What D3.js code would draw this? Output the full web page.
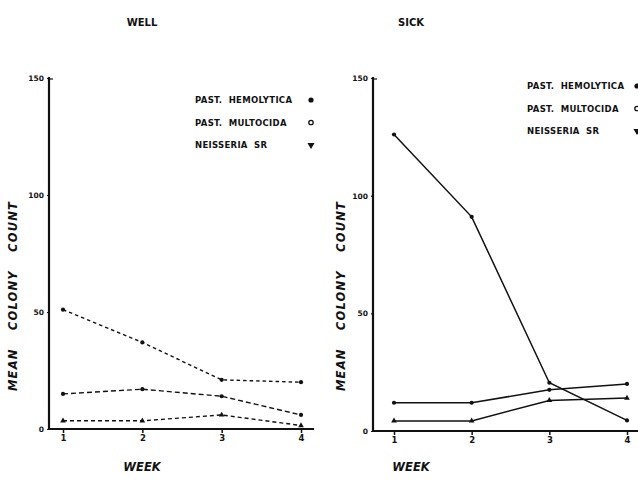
<!DOCTYPE html>
<html>
<head>
<meta charset="utf-8">
<script src="https://cdn.jsdelivr.net/npm/d3@7"></script>
<style>
  body { margin: 0; background: #fff; }
  svg text { font-family: 'DejaVu Sans', sans-serif; font-weight: bold; fill: #111; }
</style>
</head>
<body>
<svg id="chart" width="638" height="482"></svg>
<script>
const weeks = [1, 2, 3, 4];
const yTicks = [0, 50, 100, 150];
const seriesNames = ['PAST. HEMOLYTICA', 'PAST. MULTOCIDA', 'NEISSERIA SR'];
const markers = ['dot', 'ring', 'tri'];

const wellHemolytica = [51, 37, 21, 20];
const wellMultocida = [15, 17, 14, 6];
const wellNeisseria = [3.5, 3.5, 6, 1.5];

const sickHemolytica = [126, 91, 20.5, 4.5];
const sickMultocida = [12, 12, 17.5, 20];
const sickNeisseria = [4.3, 4.3, 13, 14];

const svg = d3.select('#chart');
const ink = '#111';

function drawPanel(opt) {
  const x = d3.scaleLinear().domain([1, 4]).range([opt.x1, opt.x4]);
  const y = d3.scaleLinear().domain([0, 150]).range([opt.y0, 78]);
  const g = svg.append('g');

  // title
  g.append('text')
    .attr('x', opt.titleX).attr('y', 26)
    .attr('text-anchor', 'middle')
    .style('font-size', '10px')
    .text(opt.title);

  // x axis
  const xAxis = g.append('g')
    .attr('transform', `translate(0, ${opt.y0})`)
    .call(d3.axisBottom(x).tickValues(weeks).tickFormat(d3.format('d'))
      .tickSize(4).tickSizeOuter(0).tickPadding(2));
  xAxis.select('.domain').remove();
  xAxis.selectAll('line').attr('stroke', ink).attr('stroke-width', 1.5);
  xAxis.selectAll('text').style('font-size', '8.5px').attr('fill', ink);
  g.append('line')
    .attr('x1', opt.axisX - 1).attr('x2', opt.xEnd)
    .attr('y1', opt.y0).attr('y2', opt.y0)
    .attr('stroke', ink).attr('stroke-width', 2.2);

  // y axis
  const yAxis = g.append('g')
    .attr('transform', `translate(${opt.axisX}, 0)`)
    .call(d3.axisLeft(y).tickValues(yTicks).tickSize(2).tickSizeOuter(0).tickPadding(3));
  yAxis.select('.domain').remove();
  yAxis.selectAll('line').attr('stroke', ink).attr('stroke-width', 1.2);
  yAxis.selectAll('text').style('font-size', '7.5px').attr('fill', ink);
  g.append('line')
    .attr('x1', opt.axisX).attr('x2', opt.axisX)
    .attr('y1', y(150) - 1).attr('y2', opt.y0 + 1)
    .attr('stroke', ink).attr('stroke-width', 2.2);
  g.append('line')
    .attr('x1', opt.axisX).attr('x2', opt.axisX + 4)
    .attr('y1', y(150) + 1).attr('y2', y(150) + 1)
    .attr('stroke', ink).attr('stroke-width', 1.2);

  // y label
  g.append('text')
    .attr('transform', `translate(${opt.labelX}, 296) rotate(-90)`)
    .attr('text-anchor', 'middle')
    .style('font-size', '11.5px')
    .style('font-style', 'italic')
    .style('letter-spacing', '1.2px')
    .style('word-spacing', '13px')
    .text('MEAN COLONY COUNT');

  // x label
  g.append('text')
    .attr('x', opt.titleX).attr('y', 471)
    .attr('text-anchor', 'middle')
    .style('font-size', '11.5px')
    .style('font-style', 'italic')
    .text('WEEK');

  // lines
  const line = d3.line()
    .x((d, i) => x(weeks[i]))
    .y(d => y(d));

  opt.series.forEach((vals, k) => {
    g.append('path')
      .attr('d', line(vals))
      .attr('fill', 'none')
      .attr('stroke', ink)
      .attr('stroke-width', opt.dashed ? 1.4 : 1.5)
      .attr('stroke-dasharray', opt.dashed ? opt.dashes[k] : null);

    vals.forEach((v, i) => {
      const cx = x(weeks[i]);
      const cy = y(v);
      if (markers[k] === 'tri') {
        g.append('path')
          .attr('d', d3.symbol(d3.symbolTriangle, 14)())
          .attr('transform', `translate(${cx}, ${cy})`)
          .attr('fill', ink);
      } else {
        g.append('circle')
          .attr('cx', cx).attr('cy', cy).attr('r', 2.1)
          .attr('fill', ink);
      }
    });
  });

  // legend
  seriesNames.forEach((name, k) => {
    const ly = opt.legendY + k * 22.5;
    g.append('text')
      .attr('x', opt.legendX).attr('y', ly + 3)
      .style('font-size', '8.5px')
      .style('letter-spacing', '0.3px')
      .style('word-spacing', '3px')
      .text(name);
    const mx = opt.legendX + opt.markerDx;
    if (markers[k] === 'dot') {
      g.append('circle').attr('cx', mx).attr('cy', ly).attr('r', 2.6).attr('fill', ink);
    } else if (markers[k] === 'ring') {
      g.append('circle').attr('cx', mx).attr('cy', ly).attr('r', 2.2)
        .attr('fill', 'none').attr('stroke', ink).attr('stroke-width', 1.3);
    } else {
      g.append('path')
        .attr('d', d3.symbol(d3.symbolTriangle, 22)())
        .attr('transform', `translate(${mx}, ${ly}) rotate(180)`)
        .attr('fill', ink);
    }
  });
}

drawPanel({
  title: 'WELL', titleX: 142,
  axisX: 49, xEnd: 314, x1: 63, x4: 301, y0: 429,
  labelX: 17, legendX: 195, legendY: 100, markerDx: 116,
  dashed: true, dashes: ['3.5,3', '5,3', '4,3'],
  series: [wellHemolytica, wellMultocida, wellNeisseria]
});

drawPanel({
  title: 'SICK', titleX: 411,
  axisX: 373, xEnd: 640, x1: 394, x4: 627, y0: 431,
  labelX: 345, legendX: 527, legendY: 86, markerDx: 110,
  dashed: false,
  series: [sickHemolytica, sickMultocida, sickNeisseria]
});
</script>
</body>
</html>
